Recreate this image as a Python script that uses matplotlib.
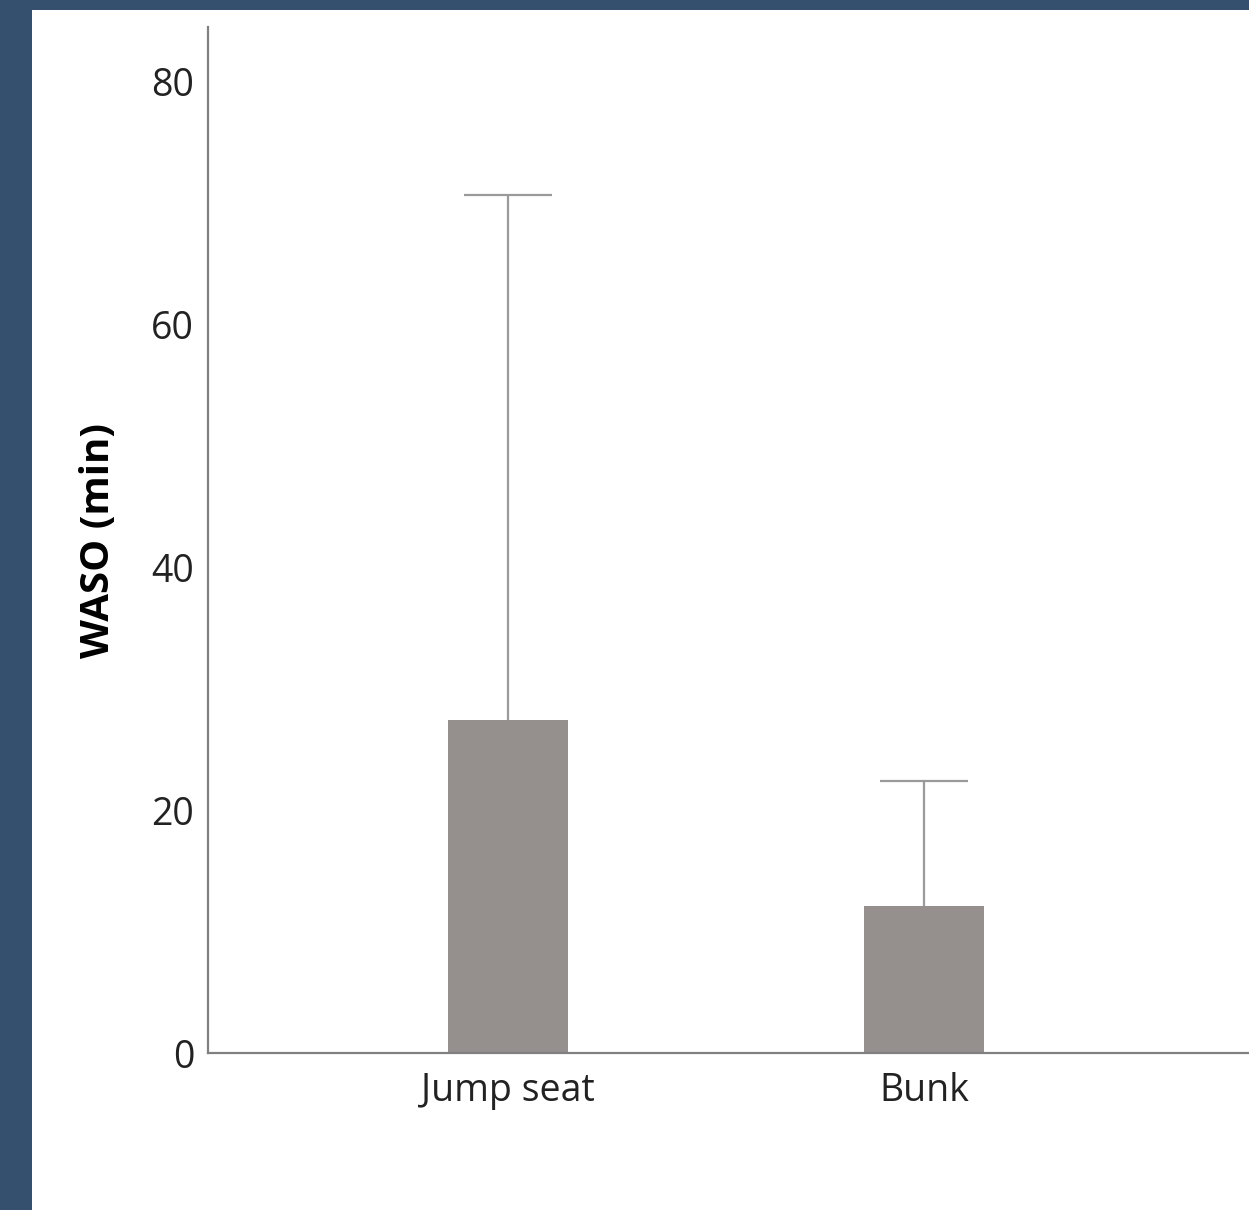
import numpy as np
import matplotlib.pyplot as plt
from matplotlib.patches import Rectangle

# data
categories = ["Jump seat", "Bunk"]
waso_mean = [27.4, 12.1]
waso_upper = [70.7, 22.4]   # top of error bar
yticks = [0, 20, 40, 60, 80]

plt.rcParams['font.family'] = ['Open Sans', 'DejaVu Sans']

fig = plt.figure(figsize=(12.49, 12.10), dpi=100)
fig.patch.set_facecolor("#34506e")
# white panel behind the axes
fig.patches.append(Rectangle((32 / 1249, 0), 1 - 32 / 1249, 1 - 10 / 1210,
                             transform=fig.transFigure, facecolor="white",
                             edgecolor="none", zorder=-5))

ax = fig.add_axes([208 / 1249, 1 - 1053 / 1210, 1 - 208 / 1249, (1053 - 27) / 1210])
ax.set_facecolor("none")
ax.set_zorder(2)

x = np.arange(len(categories))
err = [np.zeros(len(x)), np.array(waso_upper) - np.array(waso_mean)]
ax.bar(x, waso_mean, width=0.288, color="#958f8e", zorder=2)
eb = ax.errorbar(x, waso_mean, yerr=err, fmt="none", ecolor="#9a9a9a",
                 elinewidth=1.6, capsize=31.7, capthick=1.6, zorder=3)
# only upper caps
eb[1][0].set_visible(False)

ax.set_xlim(-0.721, 1.781)
ax.set_ylim(0, 84.5)
ax.set_xticks(x)
ax.set_xticklabels(categories)
ax.set_yticks(yticks)
ax.tick_params(length=0, labelsize=27, colors="#222222")
ax.tick_params(axis="y", pad=10)
ax.tick_params(axis="x", pad=14)
ax.set_ylabel("WASO (min)", fontsize=29, fontweight="bold", labelpad=24)

for s in ["top", "right"]:
    ax.spines[s].set_visible(False)
for s in ["left", "bottom"]:
    ax.spines[s].set_color("#808080")
    ax.spines[s].set_linewidth(1.6)

plt.savefig("out.png", dpi=100, facecolor=fig.get_facecolor())
